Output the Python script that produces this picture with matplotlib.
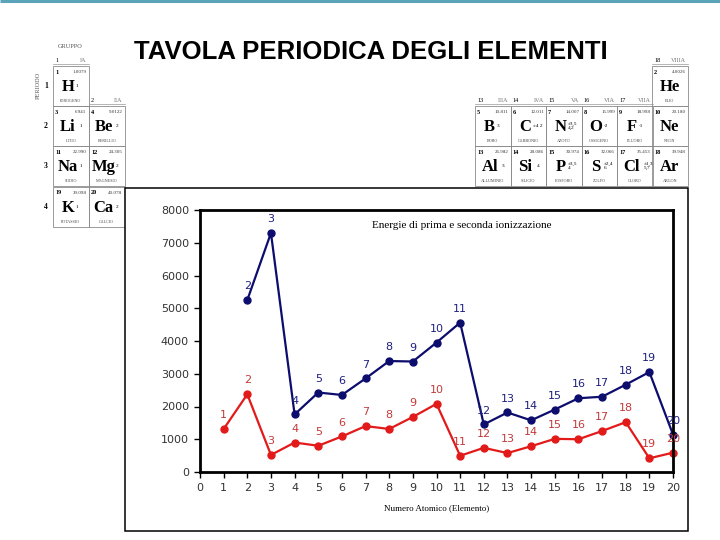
#!/usr/bin/env python3
"""
Energie di prima e seconda ionizzazione sopra la tavola periodica
"""

import matplotlib
matplotlib.use('Agg')
import matplotlib.pyplot as plt
from matplotlib.patches import Rectangle

# --- dati del grafico ---
numeri_prima = list(range(1, 21))
energia_prima = [1312, 2372, 520, 900, 801, 1086, 1402, 1314, 1681, 2081,
                 496, 738, 578, 787, 1012, 1000, 1251, 1521, 419, 590]
numeri_seconda = list(range(2, 21))
energia_seconda = [5250, 7298, 1757, 2427, 2352, 2856, 3388, 3374, 3952,
                   4562, 1451, 1817, 1577, 1907, 2252, 2298, 2666, 3052, 1145]
x_ticks = list(range(0, 21))
y_ticks = [0, 1000, 2000, 3000, 4000, 5000, 6000, 7000, 8000]

# --- dati della tavola periodica (sfondo) ---
# (simbolo, numero, massa, nome, ossidazione, gruppo-colonna, periodo)
elementi = [
    ('H', 1, '1.0079', 'IDROGENO', '1', 0, 1),
    ('Li', 3, '6.941', 'LITIO', '1', 0, 2),
    ('Be', 4, '9.0122', 'BERILLIO', '2', 1, 2),
    ('Na', 11, '22.990', 'SODIO', '1', 0, 3),
    ('Mg', 12, '24.305', 'MAGNESIO', '2', 1, 3),
    ('K', 19, '39.098', 'POTASSIO', '1', 0, 4),
    ('Ca', 20, '40.078', 'CALCIO', '2', 1, 4),
    ('He', 2, '4.0026', 'ELIO', '', 7, 1),
    ('B', 5, '10.811', 'BORO', '3', 2, 2),
    ('C', 6, '12.011', 'CARBONIO', '±4 2', 3, 2),
    ('N', 7, '14.007', 'AZOTO', '±3,5\n4,2', 4, 2),
    ('O', 8, '15.999', 'OSSIGENO', '-2', 5, 2),
    ('F', 9, '18.998', 'FLUORO', '-1', 6, 2),
    ('Ne', 10, '20.180', 'NEON', '', 7, 2),
    ('Al', 13, '26.982', 'ALLUMINIO', '3', 2, 3),
    ('Si', 14, '28.086', 'SILICIO', '4', 3, 3),
    ('P', 15, '30.974', 'FOSFORO', '±3,5\n4', 4, 3),
    ('S', 16, '32.066', 'ZOLFO', '±2,4\n6', 5, 3),
    ('Cl', 17, '35.453', 'CLORO', '±1,3\n5,7', 6, 3),
    ('Ar', 18, '39.948', 'ARGON', '', 7, 3),
]
gruppi = [('1', 'IA', 0, 1), ('2', 'IIA', 1, 2), ('13', 'IIIA', 2, 2),
          ('14', 'IVA', 3, 2), ('15', 'VA', 4, 2), ('16', 'VIA', 5, 2),
          ('17', 'VIIA', 6, 2), ('18', 'VIIIA', 7, 1)]

BLU = '#0d0d6e'
ROSSO = '#e21a1a'
BLU_TXT = '#1f1f80'
ROSSO_TXT = '#c23a3a'

col_x = [53, 89, 475, 510.5, 546, 581.5, 617, 652]
row_y = {1: 66, 2: 106, 3: 146, 4: 187}
cw, ch = 35.5, 40


def disegna_tavola(fig):
    bg = fig.add_axes([0, 0, 1, 1])
    bg.set_xlim(0, 720)
    bg.set_ylim(540, 0)
    bg.axis('off')

    # linea in alto della diapositiva
    bg.plot([0, 720], [1.2, 1.2], color='#5aa3b8', lw=2.2, solid_capstyle='butt')

    bg.text(371, 52, 'TAVOLA PERIODICA DEGLI ELEMENTI', ha='center', va='center',
            fontsize=18.5, fontweight='bold',
            family=['Liberation Sans Narrow', 'Liberation Sans', 'DejaVu Sans'])

    serif = ['Liberation Serif', 'DejaVu Serif']
    bg.text(70, 47, 'GRUPPO', ha='center', va='center', fontsize=4.5, family=serif, color='#555')
    bg.text(38, 85, 'PERIODO', ha='center', va='center', fontsize=4.5, family=serif,
            color='#555', rotation=90)
    for p, y in row_y.items():
        bg.text(46, y + 20, str(p), ha='center', va='center', fontsize=5.5,
                family=serif, fontweight='bold')

    for num, rom, c, p in gruppi:
        x0 = col_x[c]
        y0 = row_y[p] - 5
        bg.text(x0 + 2, y0, num, ha='left', va='center', fontsize=4.5, family=serif)
        bg.text(x0 + cw - 2, y0, rom, ha='right', va='center', fontsize=4.5,
                family=serif, color='#777')
        bg.plot([x0, x0 + cw], [y0 + 3, y0 + 3], color='#999', lw=0.5)

    for sim, n, massa, nome, ox, c, p in elementi:
        x0 = col_x[c]
        y0 = row_y[p]
        bg.add_patch(Rectangle((x0, y0), cw, ch, fill=False, ec='#8a8a8a', lw=0.6))
        bg.text(x0 + 2, y0 + 6, str(n), ha='left', va='center', fontsize=4.5,
                family=serif, fontweight='bold')
        bg.text(x0 + cw - 2, y0 + 6, massa, ha='right', va='center', fontsize=3.6,
                family=serif, color='#333')
        dx = -3 if ox else 0
        bg.text(x0 + cw / 2 + dx, y0 + 21, sim, ha='center', va='center', fontsize=12,
                family=serif, fontweight='bold')
        if ox:
            bg.text(x0 + cw / 2 + dx + 3 + 4.5 * len(sim), y0 + 20, ox, ha='left',
                    va='center', fontsize=3.8, family=serif, linespacing=0.9)
        bg.text(x0 + cw / 2, y0 + 35, nome, ha='center', va='center', fontsize=3,
                family=serif, color='#444')

    # riquadro bianco del grafico
    bg.add_patch(Rectangle((125, 188), 563, 343, fc='white', ec='black', lw=1.1))


def disegna_grafico(fig):
    ax = fig.add_axes([200 / 720, 1 - 472 / 540, 473 / 720, 262 / 540])
    ax.set_xlim(0, 20)
    ax.set_ylim(0, 8000)
    ax.set_xticks(x_ticks)
    ax.set_yticks(y_ticks)
    ax.tick_params(direction='out', length=4, width=1, labelsize=8,
                   labelcolor='#333333', pad=4)
    for s in ax.spines.values():
        s.set_linewidth(2)
        s.set_color('black')
    ax.set_facecolor('white')

    ax.plot(numeri_seconda, energia_seconda, '-o', color=BLU, lw=1.6, ms=5, clip_on=False)
    ax.plot(numeri_prima, energia_prima, '-o', color=ROSSO, lw=1.6, ms=5, clip_on=False)

    for n, e in zip(numeri_seconda, energia_seconda):
        ax.annotate(str(n), (n, e), xytext=(0, 10), textcoords='offset points',
                    ha='center', va='center', fontsize=8, color=BLU_TXT)
    for n, e in zip(numeri_prima, energia_prima):
        ax.annotate(str(n), (n, e), xytext=(0, 10), textcoords='offset points',
                    ha='center', va='center', fontsize=8, color=ROSSO_TXT)

    serif = ['Liberation Serif', 'DejaVu Serif']
    ax.text(462 / 720, 1 - 226 / 540, 'Energie di prima e seconda ionizzazione',
            transform=fig.transFigure, ha='center', va='center', fontsize=8, family=serif)
    ax.set_xlabel('Numero Atomico (Elemento)', fontsize=6.5, family=serif, labelpad=8)
    return ax


def main():
    fig = plt.figure(figsize=(7.2, 5.4), dpi=100)
    disegna_tavola(fig)
    disegna_grafico(fig)
    fig.savefig('out.png', dpi=100)


if __name__ == "__main__":
    main()
